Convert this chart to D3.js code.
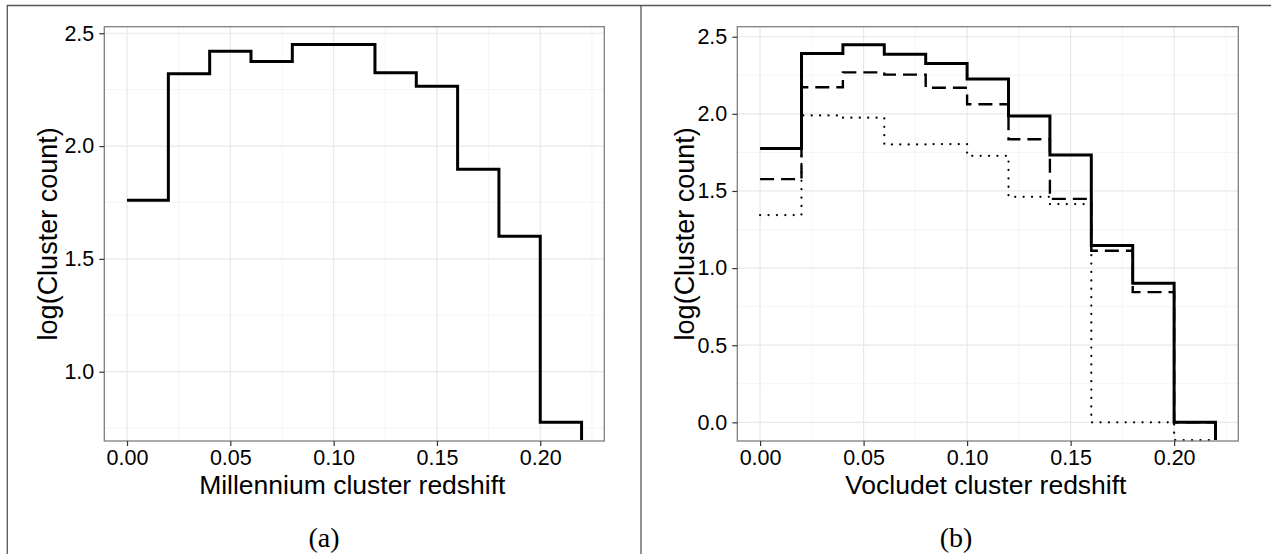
<!DOCTYPE html>
<html>
<head>
<meta charset="utf-8">
<script src="https://cdn.jsdelivr.net/npm/d3@7"></script>
<style>
  body { margin: 0; background: white; }
  svg { display: block; }
  .tick text { font-family: "Liberation Sans", Arial, sans-serif; fill: black; }
  .title { font-family: "Liberation Sans", Arial, sans-serif; fill: black; }
  .caption { font-family: "Liberation Serif", "DejaVu Serif", serif; fill: black; }
</style>
</head>
<body>
<svg width="1271" height="554"></svg>
<script>
// bin left edges (width 0.02), last edge closes the histogram
var binEdges = [0.00, 0.02, 0.04, 0.06, 0.08, 0.10, 0.12, 0.14, 0.16, 0.18, 0.20, 0.22];

// (a) Millennium: log(cluster count) per bin
var millenniumLog = [1.76, 2.32, 2.42, 2.375, 2.45, 2.45, 2.325, 2.265, 1.897, 1.60, 0.776];

// (b) Vocludet: three runs (solid, dashed, dotted); -Infinity = log(0)
var vocSolid  = [1.776, 2.392, 2.448, 2.386, 2.327, 2.226, 1.986, 1.733, 1.147, 0.901, 0.0];
var vocDashed = [1.577, 2.172, 2.269, 2.254, 2.169, 2.062, 1.835, 1.449, 1.112, 0.844, 0.0];
var vocDotted = [1.344, 1.99, 1.975, 1.802, 1.804, 1.728, 1.462, 1.415, 0.0, 0.0, -Infinity];

var xTicks = [0.00, 0.05, 0.10, 0.15, 0.20];
var yTicksA = [1.0, 1.5, 2.0, 2.5];
var yTicksB = [0.0, 0.5, 1.0, 1.5, 2.0, 2.5];

var svg = d3.select("svg");

// outer frame (like a table rule around the two subfigures)
svg.append("line").attr("x1", 7).attr("x2", 1271).attr("y1", 5.5).attr("y2", 5.5)
    .attr("stroke", "#555").attr("stroke-width", 1.3);
svg.append("line").attr("x1", 7.3).attr("x2", 7.3).attr("y1", 5).attr("y2", 554)
    .attr("stroke", "#555").attr("stroke-width", 1.3);
svg.append("line").attr("x1", 641).attr("x2", 641).attr("y1", 5).attr("y2", 554)
    .attr("stroke", "#555").attr("stroke-width", 1.3);

function panel(opts) {
    var x = d3.scaleLinear().domain([-0.011, 0.231]).range([opts.left, opts.right]);
    var y = d3.scaleLinear().domain(opts.ydom).range([441, 26.7]);

    var g = svg.append("g");
    var clipId = "clip" + opts.name;
    svg.append("clipPath").attr("id", clipId).append("rect")
        .attr("x", opts.left).attr("y", 26.7)
        .attr("width", opts.right - opts.left).attr("height", 441 - 26.7);

    // minor grid
    var xMinor = [0.025, 0.075, 0.125, 0.175, 0.225];
    var yMinor = opts.yticks.map(d => d - 0.25).concat([opts.yticks[opts.yticks.length - 1] + 0.25])
        .filter(d => d > opts.ydom[0] && d < opts.ydom[1]);
    g.selectAll(".vminor").data(xMinor).enter().append("line")
        .attr("x1", d => x(d)).attr("x2", d => x(d)).attr("y1", 26.7).attr("y2", 441)
        .attr("stroke", "#f5f5f5").attr("stroke-width", 1);
    g.selectAll(".hminor").data(yMinor).enter().append("line")
        .attr("x1", opts.left).attr("x2", opts.right).attr("y1", d => y(d)).attr("y2", d => y(d))
        .attr("stroke", "#f5f5f5").attr("stroke-width", 1);
    // major grid
    g.selectAll(".vmajor").data(xTicks).enter().append("line")
        .attr("x1", d => x(d)).attr("x2", d => x(d)).attr("y1", 26.7).attr("y2", 441)
        .attr("stroke", "#e8e8e8").attr("stroke-width", 1.2);
    g.selectAll(".hmajor").data(opts.yticks).enter().append("line")
        .attr("x1", opts.left).attr("x2", opts.right).attr("y1", d => y(d)).attr("y2", d => y(d))
        .attr("stroke", "#e8e8e8").attr("stroke-width", 1.2);

    // step lines
    var line = d3.line()
        .x(d => x(d[0]))
        .y(d => isFinite(d[1]) ? y(d[1]) : 440)
        .curve(d3.curveStepAfter);
    opts.series.forEach(function(s) {
        var pts = s.values.map((v, i) => [binEdges[i], v]);
        pts.push([binEdges[binEdges.length - 1], -Infinity]);
        g.append("path")
            .attr("d", line(pts))
            .attr("clip-path", "url(#" + clipId + ")")
            .attr("fill", "none")
            .attr("stroke", "black")
            .attr("stroke-width", s.width)
            .attr("stroke-dasharray", s.dash)
            .attr("stroke-linecap", s.cap);
    });

    // panel border
    g.append("rect").attr("x", opts.left).attr("y", 26.7)
        .attr("width", opts.right - opts.left).attr("height", 441 - 26.7)
        .attr("fill", "none").attr("stroke", "#7f7f7f").attr("stroke-width", 1.3);

    // axes
    var xAxis = g.append("g").attr("transform", "translate(0,441)")
        .call(d3.axisBottom(x).tickValues(xTicks).tickFormat(d3.format(".2f")).tickSize(5).tickPadding(4));
    var yAxis = g.append("g").attr("transform", "translate(" + opts.left + ",0)")
        .call(d3.axisLeft(y).tickValues(opts.yticks).tickFormat(d3.format(".1f")).tickSize(5).tickPadding(5));
    [xAxis, yAxis].forEach(function(a) {
        a.select(".domain").remove();
        a.selectAll(".tick line").attr("stroke", "#333").attr("stroke-width", 1.2);
        a.selectAll(".tick text").style("font-size", "21.5px");
    });

    // titles
    g.append("text").attr("class", "title")
        .attr("x", (opts.left + opts.right) / 2 - 2).attr("y", 494)
        .attr("text-anchor", "middle").style("font-size", "26.5px")
        .text(opts.xlabel);
    g.append("text").attr("class", "title")
        .attr("transform", "translate(" + opts.ytitleX + "," + (26.7 + 441) / 2 + ") rotate(-90)")
        .attr("text-anchor", "middle").style("font-size", "27px")
        .text("log(Cluster count)");
    g.append("text").attr("class", "caption")
        .attr("x", opts.capX).attr("y", 547)
        .attr("text-anchor", "middle").style("font-size", "28px")
        .text(opts.caption);
}

panel({
    name: "a", left: 104.3, right: 604.3, ydom: [0.693, 2.529], yticks: yTicksA,
    xlabel: "Millennium cluster redshift", ytitleX: 57, caption: "(a)", capX: 324,
    series: [{ values: millenniumLog, width: 3, dash: null, cap: "butt" }]
});

panel({
    name: "b", left: 737.3, right: 1238.3, ydom: [-0.121, 2.565], yticks: yTicksB,
    xlabel: "Vocludet cluster redshift", ytitleX: 694, caption: "(b)", capX: 956,
    series: [
        { values: vocDotted, width: 2.2, dash: "0.1,8.3", cap: "round" },
        { values: vocDashed, width: 2.4, dash: "14,7", cap: "butt" },
        { values: vocSolid, width: 3, dash: null, cap: "butt" }
    ]
});
</script>
</body>
</html>
